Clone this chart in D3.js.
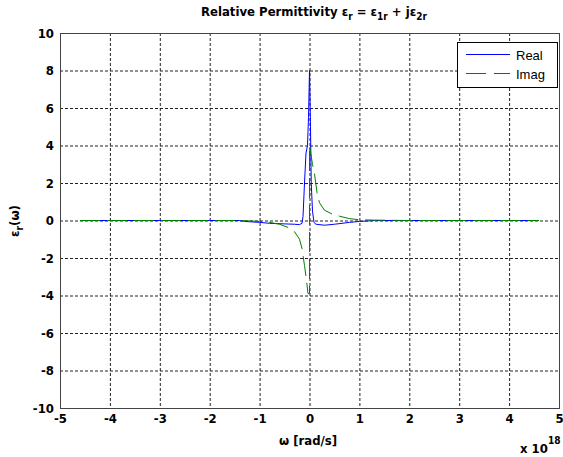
<!DOCTYPE html>
<html>
<head>
<meta charset="utf-8">
<script src="https://cdn.jsdelivr.net/npm/d3@7"></script>
<style>
  body { margin: 0; background: #fff; }
  svg { display: block; }
  .tick text { font-family: "DejaVu Sans Condensed", "Liberation Sans Narrow", "Liberation Sans", Arial, sans-serif; font-stretch: condensed; font-weight: bold; font-size: 13px; fill: #000; }
</style>
</head>
<body>
<div id="chart"></div>
<script>
// omega values are in units of 1e18 rad/s
const xExponent = 18;
const xTicks = [-5, -4, -3, -2, -1, 0, 1, 2, 3, 4, 5];
const yTicks = [-10, -8, -6, -4, -2, 0, 2, 4, 6, 8, 10];

const omegaReal = [-4.6, -3, -2, -1.4, -1.3, -1.0, -0.8, -0.5, -0.3, -0.2, -0.15, -0.13, -0.1, -0.07, -0.04, -0.02, 0,
  0.02, 0.035, 0.06, 0.09, 0.13, 0.3, 0.5, 0.8, 1.0, 1.3, 2, 3, 4.6];
const realPart = [0, 0, 0, 0, -0.05, -0.1, -0.15, -0.18, -0.2, -0.22, -0.15, 0.2, 2.0, 3.6, 4.0, 5.5, 8.0,
  5.0, 2.0, 0.5, -0.1, -0.2, -0.25, -0.2, -0.1, -0.05, 0, 0, 0, 0];

const omegaImag = [-4.6, -3, -2, -1.4, -1.0, -0.8, -0.6, -0.4, -0.3, -0.2, -0.15, -0.1, -0.06, -0.03, 0,
  0, 0.03, 0.06, 0.1, 0.15, 0.2, 0.3, 0.45, 0.6, 0.8, 1.0, 1.3, 2, 3, 4.6];
const imagPart = [0, 0, 0, 0, -0.05, -0.1, -0.2, -0.4, -0.6, -1.0, -1.5, -2.4, -3.2, -3.9, -3.9,
  4.0, 3.5, 3.0, 2.5, 1.5, 0.95, 0.55, 0.35, 0.23, 0.1, 0.04, 0.02, 0, 0, 0];

const seriesNames = ['Real', 'Imag'];

const width = 563, height = 457;
const mLeft = 60, mRight = 559, mTop = 33, mBottom = 408;
const boldFont = '"DejaVu Sans Condensed", "Liberation Sans Narrow", "Liberation Sans", Arial, sans-serif';

const svg = d3.select('#chart').append('svg')
  .attr('width', width)
  .attr('height', height);

const x = d3.scaleLinear().domain([-5, 5]).range([mLeft, mRight]);
const y = d3.scaleLinear().domain([-10, 10]).range([mBottom, mTop]);

// grid
svg.append('g').selectAll('line.gx')
  .data(xTicks.slice(1, -1))
  .enter().append('line')
  .attr('x1', d => x(d) + 0.5).attr('x2', d => x(d) + 0.5)
  .attr('y1', mTop).attr('y2', mBottom)
  .style('stroke', '#222').style('stroke-dasharray', '3,2');

svg.append('g').selectAll('line.gy')
  .data(yTicks.slice(1, -1))
  .enter().append('line')
  .attr('x1', mLeft).attr('x2', mRight)
  .attr('y1', d => y(d) + 0.5).attr('y2', d => y(d) + 0.5)
  .style('stroke', '#222').style('stroke-dasharray', '3,2');

// axes (plain hyphen for negatives, like the original)
svg.append('g')
  .attr('transform', 'translate(0,' + mBottom + ')')
  .call(d3.axisBottom(x).tickValues(xTicks).tickFormat(d => String(d)).tickSize(0).tickPadding(6));
svg.append('g')
  .attr('transform', 'translate(' + mLeft + ',0)')
  .call(d3.axisLeft(y).tickValues(yTicks).tickFormat(d => String(d)).tickSize(0).tickPadding(6));
svg.selectAll('.domain').remove();

// box
svg.append('rect')
  .attr('x', mLeft + 0.5).attr('y', mTop + 0.5)
  .attr('width', mRight - mLeft).attr('height', mBottom - mTop)
  .style('fill', 'none').style('stroke', '#444');

// curves
const line = d3.line().x(d => x(d[0])).y(d => y(d[1]));

const realData = omegaReal.map((w, i) => [w, realPart[i]]);
const imagData = omegaImag.map((w, i) => [w, imagPart[i]]);

svg.append('path')
  .datum(realData)
  .attr('d', line)
  .style('fill', 'none')
  .style('stroke', '#0000ff')
  .style('stroke-width', 1);

svg.append('path')
  .datum(imagData)
  .attr('d', line)
  .style('fill', 'none')
  .style('stroke', '#008000')
  .style('stroke-width', 1)
  .style('stroke-dasharray', '20,7');

// title
const title = svg.append('text')
  .attr('x', 314).attr('y', 16)
  .attr('text-anchor', 'middle')
  .style('font-family', boldFont).style('font-stretch', 'condensed').style('font-weight', 'bold').style('font-size', '13px');
title.append('tspan').text('Relative Permittivity ε');
title.append('tspan').attr('dy', 4).style('font-size', '10px').text('r');
title.append('tspan').attr('dy', -4).text(' = ε');
title.append('tspan').attr('dy', 4).style('font-size', '10px').text('1r');
title.append('tspan').attr('dy', -4).text(' + jε');
title.append('tspan').attr('dy', 4).style('font-size', '10px').text('2r');

// x label
svg.append('text')
  .attr('x', 308).attr('y', 445)
  .attr('text-anchor', 'middle')
  .style('font-family', boldFont).style('font-stretch', 'condensed').style('font-weight', 'bold').style('font-size', '13px')
  .text('ω [rad/s]');

// exponent
const ex = svg.append('text')
  .attr('x', 520).attr('y', 453)
  .style('font-family', boldFont).style('font-stretch', 'condensed').style('font-weight', 'bold').style('font-size', '13px');
ex.append('tspan').text('x 10');
ex.append('tspan').attr('dy', -9).style('font-size', '10px').text(xExponent);

// y label
const yl = svg.append('text')
  .attr('transform', 'translate(19,221) rotate(-90)')
  .attr('text-anchor', 'middle')
  .style('font-family', boldFont).style('font-stretch', 'condensed').style('font-weight', 'bold').style('font-size', '13px');
yl.append('tspan').text('ε');
yl.append('tspan').attr('dy', 4).style('font-size', '10px').text('r');
yl.append('tspan').attr('dy', -4).text('(ω)');

// legend
const lg = svg.append('g');
lg.append('rect')
  .attr('x', 457.5).attr('y', 42.5)
  .attr('width', 100).attr('height', 45)
  .style('fill', '#fff').style('stroke', '#000');

const legendColors = ['#0000ff', '#008000'];
const legendDash = [null, '20,8'];
seriesNames.forEach((name, i) => {
  const ly = 54.5 + i * 19;
  lg.append('line')
    .attr('x1', 466).attr('x2', 510)
    .attr('y1', ly).attr('y2', ly)
    .style('stroke', legendColors[i])
    .style('stroke-dasharray', legendDash[i]);
  lg.append('text')
    .attr('x', 516).attr('y', ly + 5)
    .style('font-family', '"Liberation Sans", Arial, sans-serif').style('font-size', '13px')
    .text(name);
});
</script>
</body>
</html>
